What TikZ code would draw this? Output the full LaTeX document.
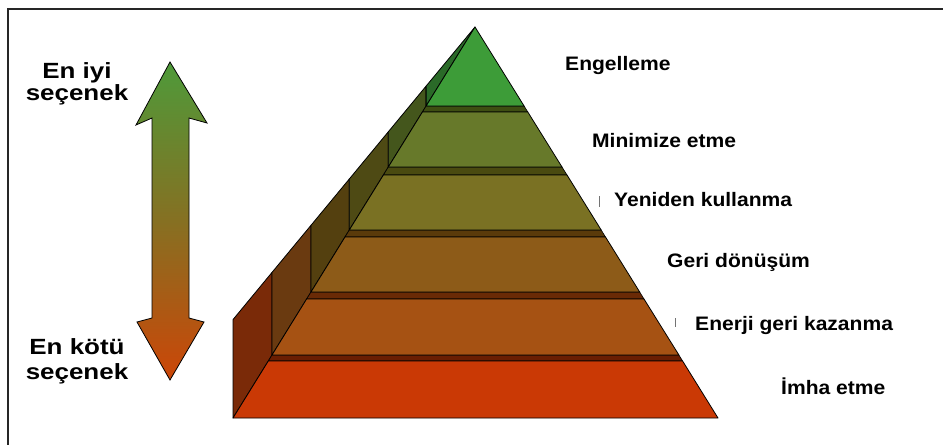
\documentclass[tikz,border=0pt]{standalone}
\usepackage{fontspec}
\setmainfont{Liberation Sans}
\definecolor{fA}{HTML}{3D9C38}
\definecolor{fB}{HTML}{67792A}
\definecolor{fC}{HTML}{7A7123}
\definecolor{fD}{HTML}{8D5B18}
\definecolor{fE}{HTML}{A65213}
\definecolor{fF}{HTML}{CA3905}
\definecolor{wA}{HTML}{2A6A28}
\definecolor{wB}{HTML}{44561C}
\definecolor{wC}{HTML}{4E4A14}
\definecolor{wD}{HTML}{54400F}
\definecolor{wE}{HTML}{6A3A10}
\definecolor{wF}{HTML}{7A2A08}
\definecolor{bB}{HTML}{3E4E12}
\definecolor{bC}{HTML}{4A4A10}
\definecolor{bD}{HTML}{5A3A0A}
\definecolor{bE}{HTML}{6A2A06}
\definecolor{bF}{HTML}{6A1E02}
\definecolor{arrtop}{HTML}{4E9A3A}
\definecolor{arrmid}{HTML}{867022}
\definecolor{arrbot}{HTML}{CC4608}
\begin{document}
\begin{tikzpicture}[x=1pt,y=-1pt,
  face/.style={draw=black, line width=0.8pt, line join=round},
  wall/.style={draw=black, line width=0.8pt, line join=round},
  band/.style={draw=black, line width=0.6pt, line join=round},
  leftlab/.style={font=\fontsize{22}{24}\selectfont\bfseries, anchor=base, inner sep=0pt, align=center},
  rightlab/.style={font=\fontsize{19.5}{22}\selectfont\bfseries, anchor=base west, inner sep=0pt}]
\useasboundingbox (0,0) rectangle (943,445);
% frame (only top and left edges visible)
\draw[line width=1.3pt, black!85] (943,9) -- (8,9) -- (8,445);

% side walls
\path[wall, fill=wF] (233,418) -- (272,355) -- (272,272.4) -- (233,319.6) -- cycle;
\path[wall, fill=wE] (272,355) -- (311,292) -- (311,225.3) -- (272,272.4) -- cycle;
\path[wall, fill=wD] (311,292) -- (349.3,230) -- (349.3,179) -- (311,225.3) -- cycle;
\path[wall, fill=wC] (349.3,230) -- (388.3,167) -- (388.3,131.8) -- (349.3,179) -- cycle;
\path[wall, fill=wB] (388.3,167) -- (426.1,106) -- (426.1,86.1) -- (388.3,131.8) -- cycle;
\path[wall, fill=wA] (426.1,106) -- (475,27) -- (426.1,86.1) -- cycle;

% top bands
\path[band, fill=bB] (426.1,106) -- (524.1,106) -- (527.8,112) -- (422.4,112) -- cycle;
\path[band, fill=bC] (388.3,167) -- (562,167) -- (567,175) -- (383.4,175) -- cycle;
\path[band, fill=bD] (349.3,230) -- (601.2,230) -- (605.5,237) -- (345,237) -- cycle;
\path[band, fill=bE] (311,292) -- (639.7,292) -- (644,299) -- (306.6,299) -- cycle;
\path[band, fill=bF] (272,355) -- (678.9,355) -- (682.6,361) -- (268.3,361) -- cycle;

% front faces
\path[face, fill=fA] (475,27) -- (524.1,106) -- (426.1,106) -- cycle;
\path[face, fill=fB] (422.4,112) -- (527.8,112) -- (562,167) -- (388.3,167) -- cycle;
\path[face, fill=fC] (383.4,175) -- (567,175) -- (601.2,230) -- (349.3,230) -- cycle;
\path[face, fill=fD] (345,237) -- (605.5,237) -- (639.7,292) -- (311,292) -- cycle;
\path[face, fill=fE] (306.6,299) -- (644,299) -- (678.9,355) -- (272,355) -- cycle;
\path[face, fill=fF] (268.3,361) -- (682.6,361) -- (718,418) -- (233,418) -- cycle;

% double arrow
\path[draw=black, line width=0.8pt, line join=miter,
      top color=arrtop, bottom color=arrbot, middle color=arrmid]
  (170,62) -- (207,123) -- (189,118) -- (189,318) -- (204,322) -- (170,380)
  -- (137,322) -- (152,318) -- (152,118) -- (136,125) -- cycle;

% left labels
\node[leftlab] (best1) at (77,78) {\scalebox{1.18}[1]{En iyi}};
\node[leftlab] (best2) at (77,100) {\scalebox{1.18}[1]{seçenek}};
\node[leftlab] (worst1) at (77,354) {\scalebox{1.18}[1]{En kötü}};
\node[leftlab] (worst2) at (77,379) {\scalebox{1.18}[1]{seçenek}};

% right labels
\node[rightlab] (l1) at (565,70) {\scalebox{1.08}[1]{Engelleme}};
\node[rightlab] (l2) at (592,147) {\scalebox{1.08}[1]{Minimize etme}};
\node[rightlab] (l3) at (614,206) {\scalebox{1.08}[1]{Yeniden kullanma}};
\node[rightlab] (l4) at (667,267) {\scalebox{1.08}[1]{Geri dönüşüm}};
\node[rightlab] (l5) at (695,330) {\scalebox{1.08}[1]{Enerji geri kazanma}};
\node[rightlab] (l6) at (781,394) {\scalebox{1.08}[1]{İmha etme}};

% small marks
\draw[black!55, line width=1pt] (599,196) -- (599,207);
\draw[black!55, line width=1pt] (675,318) -- (675,327);
\end{tikzpicture}
\end{document}
